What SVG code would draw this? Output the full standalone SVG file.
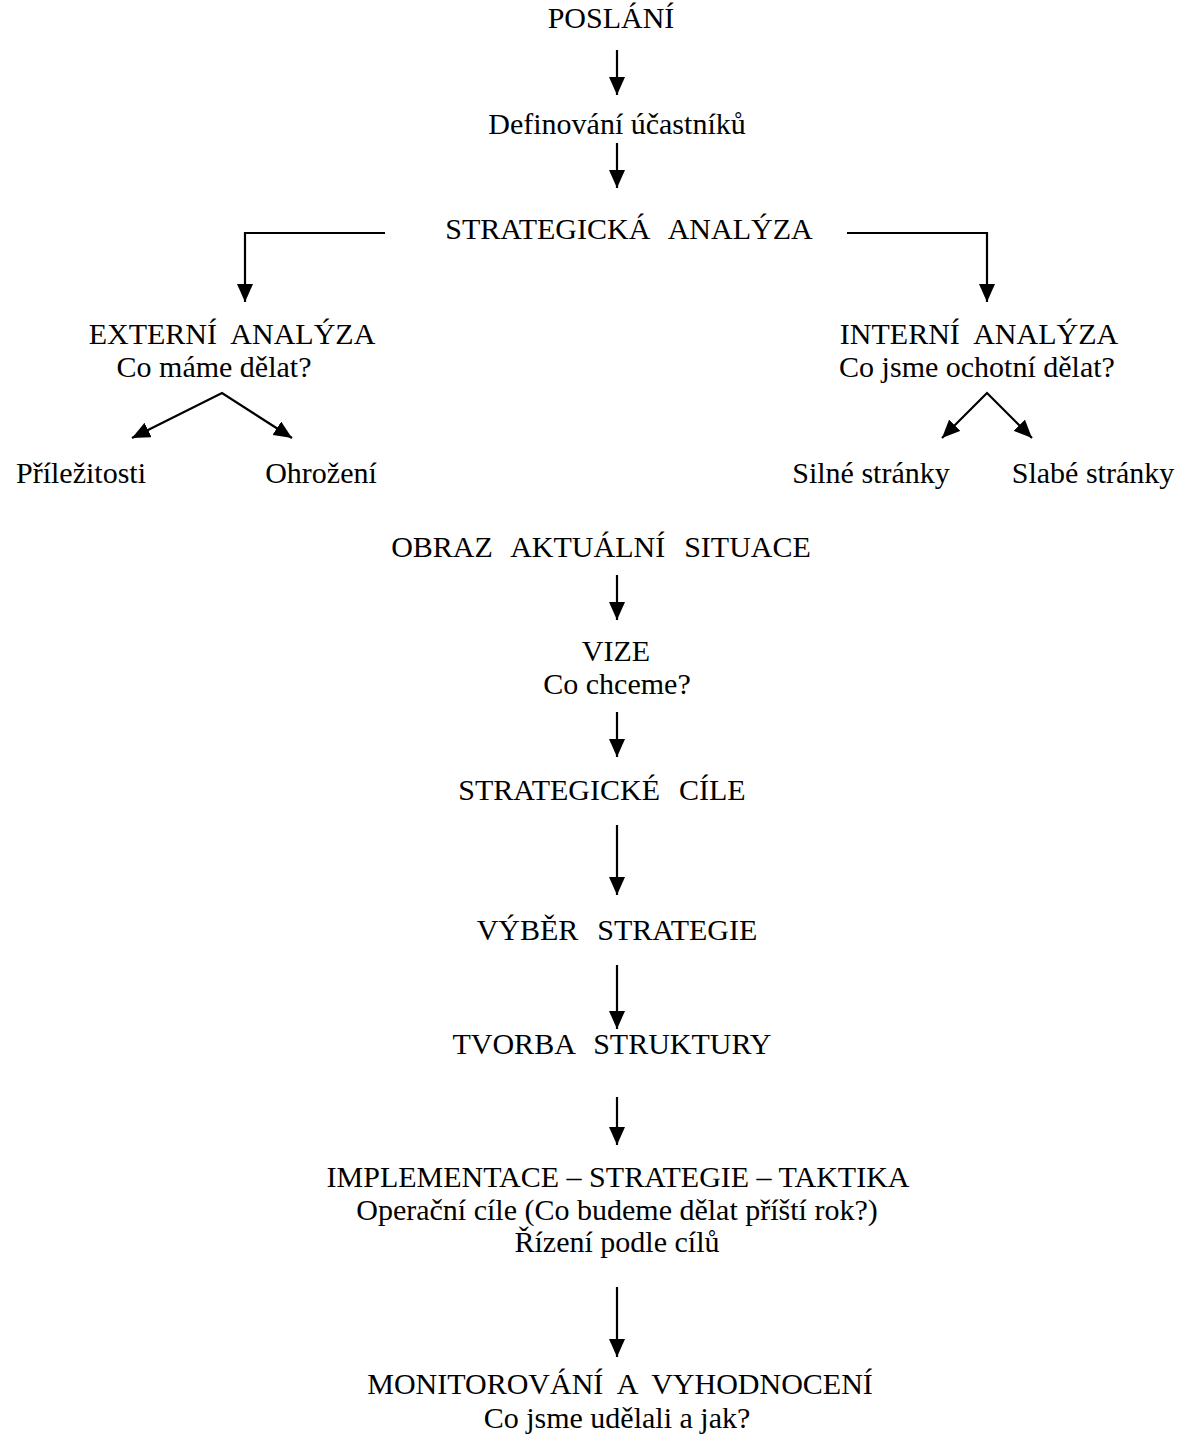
<svg xmlns="http://www.w3.org/2000/svg" width="1181" height="1440" viewBox="0 0 1181 1440">
<defs>
<style>
.t text{font-size:30px;fill:#000;text-anchor:middle;white-space:pre}
.t .w{word-spacing:2px}
.c{stroke:#000;stroke-width:2.2;fill:none}
</style>
<marker id="ah" viewBox="0 0 18 16" refX="18" refY="8" markerWidth="18" markerHeight="16" markerUnits="userSpaceOnUse" orient="auto-start-reverse">
<path d="M0,0 L18,8 L0,16 z" fill="#000"/>
</marker>
</defs>
<rect width="1181" height="1440" fill="#fff"/>
<g id="connectors">
<line class="c" x1="617" y1="50" x2="617" y2="95" marker-end="url(#ah)"/>
<line class="c" x1="617" y1="143" x2="617" y2="188" marker-end="url(#ah)"/>
<polyline class="c" points="385,233 245,233 245,302" marker-end="url(#ah)"/>
<polyline class="c" points="847,233 987,233 987,302" marker-end="url(#ah)"/>
<polyline class="c" points="132,438 222,393 292,438" marker-start="url(#ah)" marker-end="url(#ah)"/>
<polyline class="c" points="942,438 987,393 1032,438" marker-start="url(#ah)" marker-end="url(#ah)"/>
<line class="c" x1="617" y1="575" x2="617" y2="620" marker-end="url(#ah)"/>
<line class="c" x1="617" y1="712" x2="617" y2="757" marker-end="url(#ah)"/>
<line class="c" x1="617" y1="825" x2="617" y2="895" marker-end="url(#ah)"/>
<line class="c" x1="617" y1="965" x2="617" y2="1029" marker-end="url(#ah)"/>
<line class="c" x1="617" y1="1097" x2="617" y2="1145" marker-end="url(#ah)"/>
<line class="c" x1="617" y1="1287" x2="617" y2="1357" marker-end="url(#ah)"/>
</g>
<g class="t" font-family="'Liberation Serif', 'DejaVu Serif', serif">
<g id="poslani"><text x="611" y="28">POSLÁNÍ</text></g>
<g id="definovani"><text x="617" y="134">Definování účastníků</text></g>
<g id="strategicka-analyza"><text class="w" x="629" y="239">STRATEGICKÁ  ANALÝZA</text></g>
<g id="externi-analyza"><text x="232" y="344">EXTERNÍ  ANALÝZA</text><text x="214" y="377">Co máme dělat?</text></g>
<g id="interni-analyza"><text x="979" y="344">INTERNÍ  ANALÝZA</text><text x="977" y="377">Co jsme ochotní dělat?</text></g>
<g id="prilezitosti"><text x="81" y="483">Příležitosti</text></g>
<g id="ohrozeni"><text x="321" y="483">Ohrožení</text></g>
<g id="silne"><text x="871" y="483">Silné stránky</text></g>
<g id="slabe"><text x="1093" y="483">Slabé stránky</text></g>
<g id="obraz"><text class="w" x="601" y="557">OBRAZ  AKTUÁLNÍ  SITUACE</text></g>
<g id="vize"><text x="616" y="661">VIZE</text><text x="617" y="694">Co chceme?</text></g>
<g id="strategicke-cile"><text class="w" x="602" y="800">STRATEGICKÉ  CÍLE</text></g>
<g id="vyber-strategie"><text class="w" x="617" y="940">VÝBĚR  STRATEGIE</text></g>
<g id="tvorba-struktury"><text class="w" x="612" y="1054">TVORBA  STRUKTURY</text></g>
<g id="implementace"><text x="618" y="1187">IMPLEMENTACE – STRATEGIE – TAKTIKA</text><text x="617" y="1220">Operační cíle (Co budeme dělat příští rok?)</text><text x="617" y="1252">Řízení podle cílů</text></g>
<g id="monitorovani"><text x="620" y="1394">MONITOROVÁNÍ  A  VYHODNOCENÍ</text><text x="617" y="1428">Co jsme udělali a jak?</text></g>
</g>
</svg>
